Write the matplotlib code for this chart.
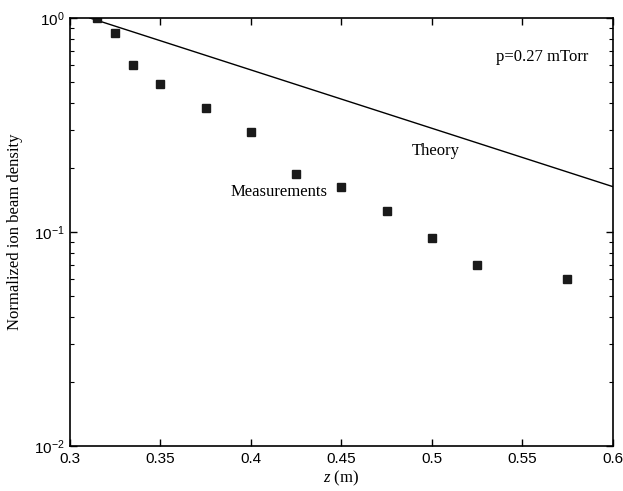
import matplotlib
matplotlib.use("Agg")
import matplotlib.pyplot as plt
from matplotlib.ticker import LogLocator, FixedLocator

# Measured normalized ion beam density along z
z_meas = [0.315, 0.325, 0.335, 0.35, 0.375, 0.40, 0.425, 0.45, 0.475, 0.50, 0.525, 0.575]
n_meas = [1.0, 0.848, 0.601, 0.493, 0.378, 0.294, 0.187, 0.163, 0.126, 0.0934, 0.0699, 0.0605]

# Theoretical exponential decay (straight line on a log scale)
z_theory = [0.311, 0.60]
n_theory = [1.0, 0.163]

x_ticks = [0.3, 0.35, 0.4, 0.45, 0.5, 0.55, 0.6]
x_tick_labels = ["0.3", "0.35", "0.4", "0.45", "0.5", "0.55", "0.6"]

sans = ["Liberation Sans", "DejaVu Sans"]
serif = ["Liberation Serif", "DejaVu Serif"]

plt.rcParams["mathtext.fontset"] = "custom"
plt.rcParams["mathtext.rm"] = "Liberation Sans"
plt.rcParams["mathtext.it"] = "Liberation Serif:italic"
plt.rcParams["axes.unicode_minus"] = False

fig = plt.figure(figsize=(6.23, 4.91), dpi=100)
ax = fig.add_axes([70 / 623, 1 - 446 / 491, (612.7 - 70) / 623, (446 - 18) / 491])

ax.plot(z_theory, n_theory, color="black", lw=1.0)
ax.plot(z_meas, n_meas, linestyle="none", marker="s", markersize=6,
        color="#1a1a1a", markeredgecolor="#1a1a1a")

ax.set_yscale("log")
ax.set_xlim(0.3, 0.6)
ax.set_ylim(1e-2, 1e0)

ax.xaxis.set_major_locator(FixedLocator(x_ticks))
ax.set_xticklabels(x_tick_labels, fontfamily=sans, fontsize=11)
ax.yaxis.set_major_locator(LogLocator(base=10, numticks=5))
ax.yaxis.set_minor_locator(LogLocator(base=10, subs=range(2, 10), numticks=20))
for lbl in ax.get_yticklabels():
    lbl.set_fontfamily(sans)
    lbl.set_fontsize(11)

ax.tick_params(which="both", direction="in", top=True, right=True, colors="black")
ax.tick_params(which="major", length=5, width=1, pad=4)
ax.tick_params(which="minor", length=3, width=0.8)
ax.tick_params(axis="y", which="minor", left=True, right=True)
for sp in ax.spines.values():
    sp.set_linewidth(1.2)

ax.set_xlabel("$z$ (m)", fontfamily=serif, fontsize=12, labelpad=2)
ax.set_ylabel("Normalized ion beam density", fontfamily=serif, fontsize=12, labelpad=8)

ax.text(0.561, 0.657, "p=0.27 mTorr", fontfamily=serif, fontsize=12,
        ha="center", va="center")
ax.text(0.502, 0.239, "Theory", fontfamily=serif, fontsize=12, ha="center", va="center")
ax.text(0.4155, 0.154, "Measurements", fontfamily=serif, fontsize=12, ha="center", va="center")

fig.savefig("out.png", dpi=100)
